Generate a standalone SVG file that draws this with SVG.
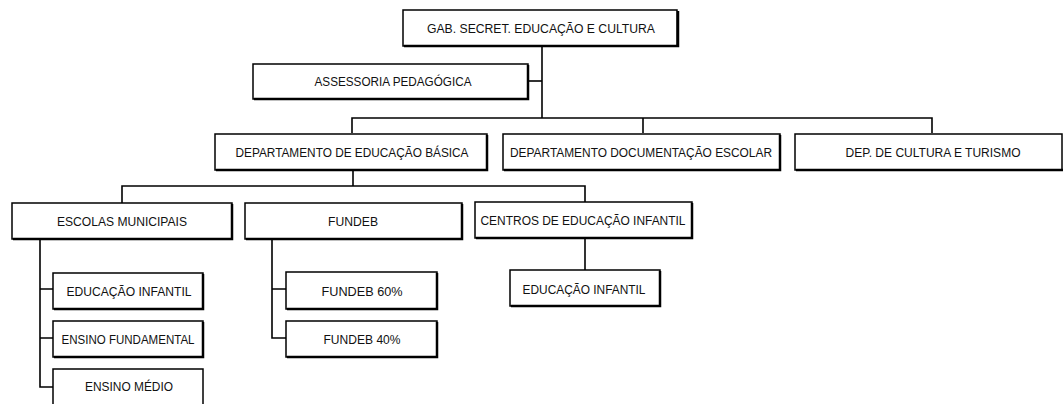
<svg xmlns="http://www.w3.org/2000/svg" width="1064" height="404" viewBox="0 0 1064 404">
<style>
.box{fill:#fff;stroke:#000;stroke-width:1.5}
.sh{fill:none;stroke:#000;stroke-width:2.5}
.t{font-family:"Liberation Sans Narrow","Liberation Sans",Arial,sans-serif;font-size:12px;fill:#111;text-anchor:middle}
.c{fill:none;stroke:#000;stroke-width:1.6}
</style>
<rect width="1064" height="404" fill="#fff"/>
<g id="connectors">
<path class="c" d="M542 47V118"/>
<path class="c" d="M528 81H542"/>
<path class="c" d="M352 133V118H932V133"/>
<path class="c" d="M643 118V133"/>
<path class="c" d="M353 171V186"/>
<path class="c" d="M122 203V186H585V202"/>
<path class="c" d="M40 240V387H53"/>
<path class="c" d="M40 289H53M40 338H53"/>
<path class="c" d="M272 240V338H286M272 289H286"/>
<path class="c" d="M585 238V270"/>
</g>
<g id="n-gab"><rect class="box" x="403" y="10" width="274" height="36"/><path class="sh" d="M404 46H678V11"/><text class="t" x="541" y="33" textLength="228" lengthAdjust="spacingAndGlyphs">GAB. SECRET. EDUCAÇÃO E CULTURA</text></g>
<g id="n-assessoria"><rect class="box" x="253" y="64" width="275" height="35"/><path class="sh" d="M254 99H528V65"/><text class="t" x="393" y="86" textLength="157" lengthAdjust="spacingAndGlyphs">ASSESSORIA PEDAGÓGICA</text></g>
<g id="n-dep-basica"><rect class="box" x="215" y="134" width="272" height="36"/><path class="sh" d="M216 170H487V135"/><text class="t" x="352" y="157" textLength="233" lengthAdjust="spacingAndGlyphs">DEPARTAMENTO DE EDUCAÇÃO BÁSICA</text></g>
<g id="n-dep-doc"><rect class="box" x="503" y="134" width="277" height="36"/><path class="sh" d="M504 170H780V135"/><text class="t" x="641" y="157" textLength="262" lengthAdjust="spacingAndGlyphs">DEPARTAMENTO DOCUMENTAÇÃO ESCOLAR</text></g>
<g id="n-dep-cultura"><rect class="box" x="795" y="134" width="267" height="36"/><path class="sh" d="M796 170H1063"/><text class="t" x="933" y="157" textLength="175" lengthAdjust="spacingAndGlyphs">DEP. DE CULTURA E TURISMO</text></g>
<g id="n-escolas"><rect class="box" x="12" y="203" width="220" height="36"/><path class="sh" d="M13 239H232V204"/><text class="t" x="122" y="226" textLength="130" lengthAdjust="spacingAndGlyphs">ESCOLAS MUNICIPAIS</text></g>
<g id="n-fundeb"><rect class="box" x="245" y="203" width="217" height="36"/><path class="sh" d="M246 239H462V204"/><text class="t" x="353" y="226" textLength="50" lengthAdjust="spacingAndGlyphs">FUNDEB</text></g>
<g id="n-centros"><rect class="box" x="475" y="202" width="217" height="36"/><path class="sh" d="M476 238H692V203"/><text class="t" x="583" y="225" textLength="205" lengthAdjust="spacingAndGlyphs">CENTROS DE EDUCAÇÃO INFANTIL</text></g>
<g id="n-esc-infantil"><rect class="box" x="53" y="273" width="150" height="36"/><path class="sh" d="M54 309H203V274"/><text class="t" x="129" y="296" textLength="125" lengthAdjust="spacingAndGlyphs">EDUCAÇÃO INFANTIL</text></g>
<g id="n-esc-fundamental"><rect class="box" x="53" y="321" width="150" height="36"/><path class="sh" d="M54 357H203V322"/><text class="t" x="128" y="344" textLength="133" lengthAdjust="spacingAndGlyphs">ENSINO FUNDAMENTAL</text></g>
<g id="n-esc-medio"><rect class="box" x="53" y="369" width="150" height="40"/><text class="t" x="129" y="391" textLength="88" lengthAdjust="spacingAndGlyphs">ENSINO MÉDIO</text></g>
<g id="n-fundeb60"><rect class="box" x="286" y="272" width="151" height="37"/><path class="sh" d="M287 309H437V273"/><text class="t" x="362" y="296" textLength="81" lengthAdjust="spacingAndGlyphs">FUNDEB 60%</text></g>
<g id="n-fundeb40"><rect class="box" x="286" y="321" width="151" height="36"/><path class="sh" d="M287 357H437V322"/><text class="t" x="362" y="344" textLength="77" lengthAdjust="spacingAndGlyphs">FUNDEB 40%</text></g>
<g id="n-centros-infantil"><rect class="box" x="510" y="270" width="150" height="36"/><path class="sh" d="M511 306H660V271"/><text class="t" x="584" y="294" textLength="123" lengthAdjust="spacingAndGlyphs">EDUCAÇÃO INFANTIL</text></g>
</svg>
